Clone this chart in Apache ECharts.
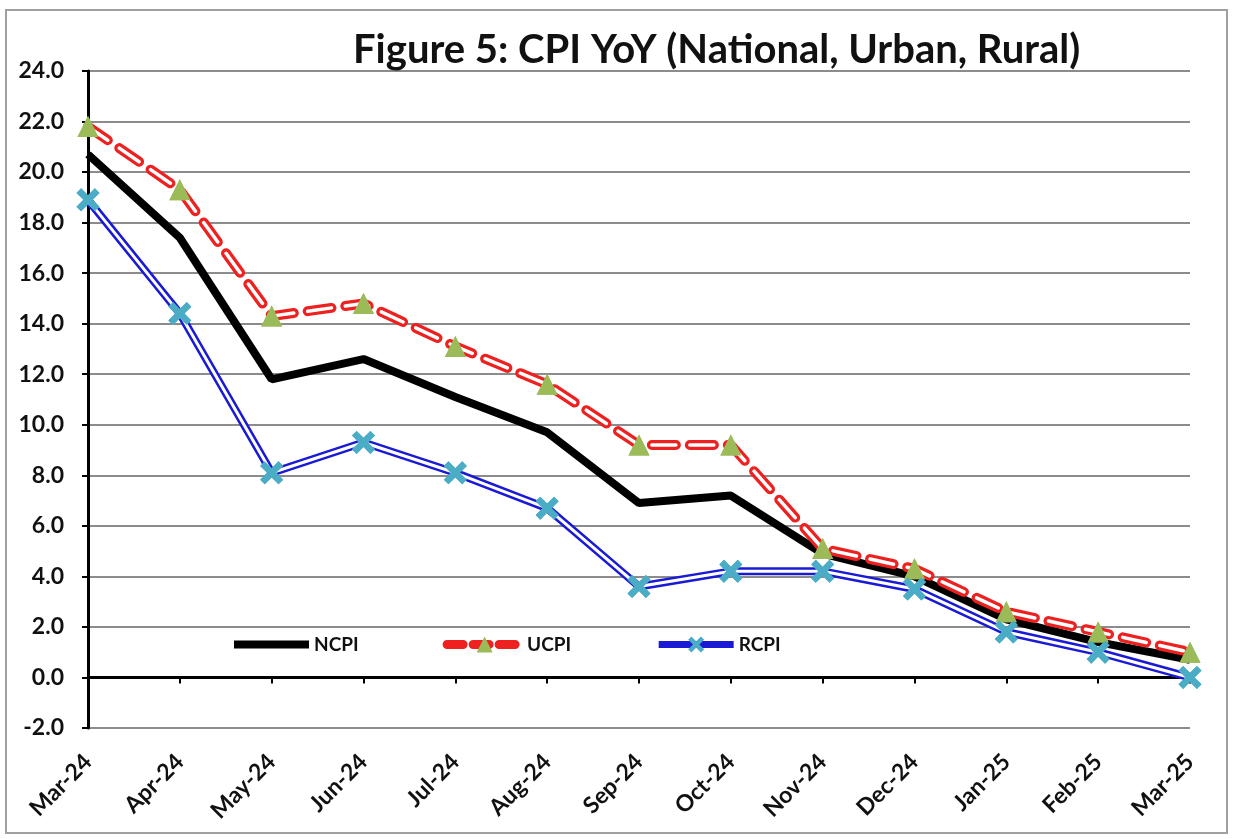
<!DOCTYPE html>
<html>
<head>
<meta charset="utf-8">
<script src="https://cdn.jsdelivr.net/npm/echarts@6/dist/echarts.min.js"></script>
<style>
    html, body { margin: 0; padding: 0; background: #fff; }
    #main { width: 1234px; height: 839px; }
</style>
</head>
<body>
<div id="main"></div>
<script>
    const months = ['Mar-24', 'Apr-24', 'May-24', 'Jun-24', 'Jul-24', 'Aug-24', 'Sep-24',
        'Oct-24', 'Nov-24', 'Dec-24', 'Jan-25', 'Feb-25', 'Mar-25'];
    const ncpi = [20.7, 17.4, 11.8, 12.6, 11.1, 9.7, 6.9, 7.2, 4.9, 4.0, 2.3, 1.4, 0.7];
    const ucpi = [21.8, 19.3, 14.3, 14.8, 13.1, 11.6, 9.2, 9.2, 5.1, 4.3, 2.6, 1.8, 1.0];
    const rcpi = [18.9, 14.4, 8.1, 9.3, 8.1, 6.7, 3.6, 4.2, 4.2, 3.5, 1.8, 1.0, 0.0];

    const font = 'Lato, "Open Sans", sans-serif';
    // fat X marker for the rural series
    const crossPath = 'path://M2,0 L5,3 L8,0 L10,2 L7,5 L10,8 L8,10 L5,7 L2,10 L0,8 L3,5 L0,2 Z';
    const dash = [24, 14];

    const chart = echarts.init(document.getElementById('main'));

    const option = {
        animation: false,
        backgroundColor: '#fff',
        graphic: [{
            type: 'rect',
            shape: { x: 6, y: 10, width: 1221, height: 823 },
            style: { fill: 'none', stroke: '#a0a0a0', lineWidth: 2 },
            silent: true
        }],
        title: {
            text: 'Figure 5: CPI YoY (National, Urban, Rural)',
            left: 348,
            top: 25,
            textStyle: { fontFamily: font, fontWeight: 'bold', fontSize: 40, color: '#111' }
        },
        legend: {
            data: [
                { name: 'NCPI', itemStyle: { opacity: 0 }, lineStyle: { width: 8, color: '#000' } },
                { name: 'UCPI', lineStyle: { width: 9, color: '#ee2020', type: [16, 10], cap: 'round' } },
                { name: 'RCPI', lineStyle: { width: 7, color: '#1a1ad6' } }
            ],
            left: 225,
            top: 630,
            itemWidth: 75,
            itemHeight: 20,
            itemGap: 84,
            textStyle: { fontFamily: font, fontWeight: 'bold', fontSize: 19, color: '#111' }
        },
        grid: { left: 88, right: 44, top: 71, bottom: 111 },
        xAxis: [{
            type: 'category',
            data: months,
            boundaryGap: false,
            axisLine: { onZero: true, lineStyle: { color: '#000', width: 3 } },
            axisTick: { show: true, inside: false, length: 6, lineStyle: { color: '#000', width: 2 } },
            axisLabel: { show: false },
            splitLine: { show: false }
        }, {
            type: 'category',
            data: months,
            boundaryGap: false,
            position: 'bottom',
            axisLine: { show: false, onZero: false },
            axisTick: { show: false },
            axisLabel: {
                rotate: 45,
                margin: 30,
                fontFamily: font,
                fontWeight: 'bold',
                fontSize: 23,
                color: '#111'
            },
            splitLine: { show: false }
        }],
        yAxis: {
            type: 'value',
            min: -2,
            max: 24,
            interval: 2,
            axisLine: { show: true, lineStyle: { color: '#000', width: 3 } },
            axisTick: { show: true, length: 6, lineStyle: { color: '#000', width: 2 } },
            axisLabel: {
                formatter: v => v.toFixed(1),
                margin: 24,
                fontFamily: font,
                fontWeight: 'bold',
                fontSize: 23,
                color: '#111'
            },
            splitLine: { lineStyle: { color: '#8c8c8c', width: 2 } }
        },
        series: [
            {
                name: 'NCPI',
                type: 'line',
                data: ncpi,
                z: 2,
                symbol: 'none',
                itemStyle: { color: '#000' },
                lineStyle: { color: '#000', width: 8 }
            },
            {
                name: 'UCPI',
                type: 'line',
                data: ucpi,
                z: 3,
                symbol: 'triangle',
                symbolSize: 21,
                itemStyle: { color: '#9bbb59' },
                lineStyle: { color: '#ee2020', width: 10, type: dash, cap: 'round' }
            },
            {
                name: 'UCPI_core',
                type: 'line',
                data: ucpi,
                z: 4,
                symbol: 'none',
                silent: true,
                lineStyle: { color: '#fff', width: 3.5, type: dash, cap: 'round' }
            },
            {
                name: 'RCPI',
                type: 'line',
                data: rcpi,
                z: 3,
                symbol: crossPath,
                symbolSize: 23,
                itemStyle: { color: '#4bacc6' },
                lineStyle: { color: '#1a1ad6', width: 8 }
            },
            {
                name: 'RCPI_core',
                type: 'line',
                data: rcpi,
                z: 4,
                symbol: 'none',
                silent: true,
                lineStyle: { color: '#fff', width: 3 }
            },
            {
                name: 'UCPI_pts',
                type: 'line',
                data: ucpi,
                z: 5,
                symbol: 'triangle',
                symbolSize: 21,
                itemStyle: { color: '#9bbb59' },
                lineStyle: { width: 0, opacity: 0 }
            },
            {
                name: 'RCPI_pts',
                type: 'line',
                data: rcpi,
                z: 5,
                symbol: crossPath,
                symbolSize: 23,
                itemStyle: { color: '#4bacc6' },
                lineStyle: { width: 0, opacity: 0 }
            }
        ]
    };

    chart.setOption(option);
</script>
</body>
</html>
